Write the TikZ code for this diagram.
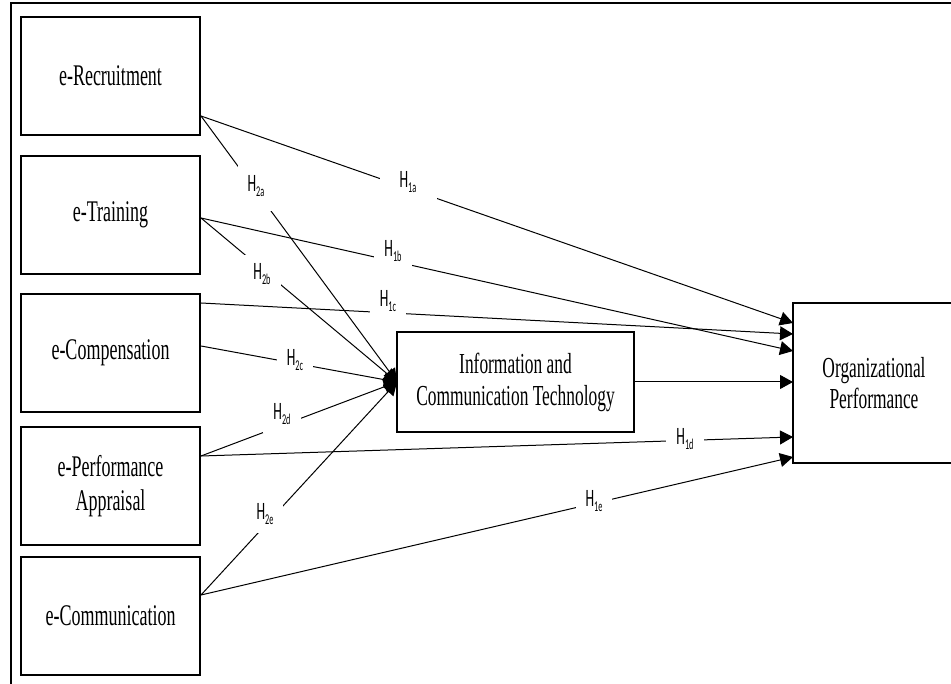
\documentclass[tikz,border=0pt]{standalone}
\usepackage{fontspec}
\usetikzlibrary{arrows.meta}

\newfontfamily\boxfont[FakeStretch=0.6]{Liberation Serif}
\newfontfamily\hypfont[FakeStretch=0.55]{Carlito}
\newcommand{\hlab}[1]{H\raisebox{-5pt}{\fontsize{15}{15}\selectfont #1}}

\begin{document}
\begin{tikzpicture}[x=1pt,y=-1pt,
	var/.style={draw,line width=1.1pt,align=center,inner sep=0pt,font=\boxfont\fontsize{30}{34}\selectfont},
	hyp/.style={fill=white,inner xsep=10pt,inner ysep=8pt,font=\hypfont\fontsize{25}{25}\selectfont},
	arr/.style={line width=1pt,-{Triangle[length=13pt,width=14pt]}}]
		\clip (0,0) rectangle (951,684);
		\draw[line width=1.1pt] (11,3) rectangle (980,700);

		% constructs
		\node[var,minimum width=179pt,minimum height=118pt] (rec) at (110.5,76) {e-Recruitment};
		\node[var,minimum width=179pt,minimum height=118pt] (tra) at (110.5,215) {e-Training};
		\node[var,minimum width=179pt,minimum height=118pt] (cmp) at (110.5,353) {e-Compensation};
		\node[var,minimum width=179pt,minimum height=118pt] (per) at (110.5,486) {e-Performance\\Appraisal};
		\node[var,minimum width=179pt,minimum height=118pt] (cmm) at (110.5,616) {e-Communication};
		\node[var,minimum width=237pt,minimum height=100pt,font=\boxfont\fontsize{29}{32}\selectfont] (ict) at (515.5,382) {Information and\\Communication Technology};
		\node[var,minimum width=162pt,minimum height=160pt,font=\boxfont\fontsize{29}{31}\selectfont] (op) at (874,383) {Organizational\\Performance};

		% connector ends
		\coordinate (rec-o) at (201,116);
		\coordinate (tra-o) at (201,218);
		\coordinate (cmp-o) at (201,303);
		\coordinate (cmp-i) at (201,346);
		\coordinate (per-o) at (201,456);
		\coordinate (cmm-o) at (201,595);
		\coordinate (ict-i) at (397,382);
		\coordinate (op-a) at (793,323);
		\coordinate (op-c) at (793,334);
		\coordinate (op-b) at (793,351);
		\coordinate (op-d) at (793,437);
		\coordinate (op-e) at (793,457);

		\path [arr] (rec-o) edge (op-a);
		\path [arr] (rec-o) edge (ict-i);
		\path [arr] (tra-o) edge (op-b);
		\path [arr] (tra-o) edge (ict-i);
		\path [arr] (cmp-o) edge (op-c);
		\path [arr] (cmp-i) edge (ict-i);
		\path [arr] (per-o) edge (ict-i);
		\path [arr] (per-o) edge (op-d);
		\path [arr] (cmm-o) edge (ict-i);
		\path [arr] (cmm-o) edge (op-e);
		\path [arr] (ict) edge (op-c |- ict);

		% hypotheses
		\node[hyp,minimum width=57pt] (h1a) at (408,182) {\hlab{1a}};
		\node[hyp,minimum height=50pt] (h2a) at (256,186) {\hlab{2a}};
		\node[hyp] (h1b) at (393,251) {\hlab{1b}};
		\node[hyp] (h2b) at (262,274) {\hlab{2b}};
		\node[hyp] (h1c) at (388,301) {\hlab{1c}};
		\node[hyp] (h2c) at (295,360) {\hlab{2c}};
		\node[hyp] (h2d) at (282,414) {\hlab{2d}};
		\node[hyp] (h1d) at (685,439) {\hlab{1d}};
		\node[hyp] (h2e) at (265,514) {\hlab{2e}};
		\node[hyp] (h1e) at (594,501) {\hlab{1e}};
	\end{tikzpicture}
\end{document}
